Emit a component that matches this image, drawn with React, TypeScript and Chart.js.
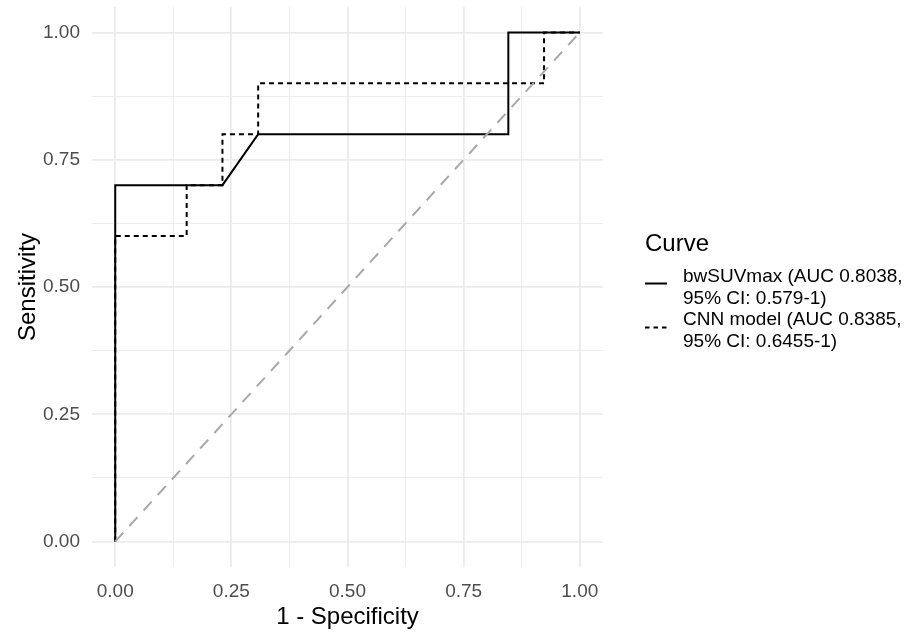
import React, { useEffect, useRef } from "react";
import { Chart, registerables } from "chart.js";

Chart.register(...registerables);

// ---- data ----
const xMajorTicks = [0, 0.25, 0.5, 0.75, 1];
const xMinorTicks = [0.125, 0.375, 0.625, 0.875];
const yMajorTicks = [0, 0.25, 0.5, 0.75, 1];
const yMinorTicks = [0.125, 0.375, 0.625, 0.875];

const bwFpr = [0, 0, 0.2308, 0.3077, 0.8462, 0.8462, 1];
const bwTpr = [0, 0.7, 0.7, 0.8, 0.8, 1.0, 1.0];

const cnnFpr = [0, 0, 0.1538, 0.1538, 0.2308, 0.2308, 0.3077, 0.3077, 0.9231, 0.9231, 1];
const cnnTpr = [0, 0.6, 0.6, 0.7, 0.7, 0.8, 0.8, 0.9, 0.9, 1.0, 1.0];

const refX = [0, 1];
const refY = [0, 1];

const xTitle = "1 - Specificity";
const yTitle = "Sensitivity";
const legendTitle = "Curve";
const legendLabels = [
  ["bwSUVmax (AUC 0.8038,", "95% CI: 0.579-1)"],
  ["CNN model (AUC 0.8385,", "95% CI: 0.6455-1)"],
];

const FONT = '"Liberation Sans", Arial, Helvetica, sans-serif';

const isMajor = (v: number) => Math.abs(v * 4 - Math.round(v * 4)) < 1e-6;

const toPoints = (xs: number[], ys: number[]) => xs.map((x, i) => ({ x, y: ys[i] }));

const legendPlugin = {
  id: "ggLegend",
  afterDraw(chart: any) {
    const ctx = chart.ctx as CanvasRenderingContext2D;
    ctx.save();
    ctx.fillStyle = "#000000";
    ctx.textAlign = "left";
    ctx.textBaseline = "middle";
    ctx.font = `24px ${FONT}`;
    ctx.fillText(legendTitle, 645, 244);

    // keys
    ctx.strokeStyle = "#000000";
    ctx.lineWidth = 2;
    ctx.setLineDash([]);
    ctx.beginPath();
    ctx.moveTo(645, 283.5);
    ctx.lineTo(667, 283.5);
    ctx.stroke();
    ctx.setLineDash([4.5, 4]);
    ctx.beginPath();
    ctx.moveTo(645, 327.5);
    ctx.lineTo(667, 327.5);
    ctx.stroke();
    ctx.setLineDash([]);

    ctx.font = `19px ${FONT}`;
    const ys = [[277, 298.5], [320, 341.5]];
    legendLabels.forEach((lines, i) => {
      lines.forEach((t, j) => ctx.fillText(t, 683, ys[i][j]));
    });
    ctx.restore();
  },
};

export default function App() {
  const ref = useRef<HTMLCanvasElement | null>(null);

  useEffect(() => {
    if (!ref.current) return;
    const allX = [...xMajorTicks, ...xMinorTicks].sort((a, b) => a - b);
    const allY = [...yMajorTicks, ...yMinorTicks].sort((a, b) => a - b);

    const chart = new Chart(ref.current, {
      type: "scatter",
      data: {
        datasets: [
          {
            label: "reference",
            data: toPoints(refX, refY),
            showLine: true,
            borderColor: "#A8A8A8",
            borderWidth: 2,
            borderDash: [12, 9],
            pointRadius: 0,
            order: 0,
          },
          {
            label: legendLabels[0].join(" "),
            data: toPoints(bwFpr, bwTpr),
            showLine: true,
            borderColor: "#000000",
            borderWidth: 2,
            pointRadius: 0,
            order: 1,
          },
          {
            label: legendLabels[1].join(" "),
            data: toPoints(cnnFpr, cnnTpr),
            showLine: true,
            borderColor: "#000000",
            borderWidth: 2,
            borderDash: [5, 4],
            pointRadius: 0,
            order: 2,
          },
        ],
      },
      options: {
        responsive: false,
        animation: false,
        events: [],
        layout: { padding: { top: 7, right: 309, left: 0, bottom: 0 } },
        plugins: {
          legend: { display: false },
          tooltip: { enabled: false },
        },
        scales: {
          x: {
            type: "linear",
            min: -0.05,
            max: 1.05,
            afterBuildTicks: (scale: any) => {
              scale.ticks = allX.map((v) => ({ value: v }));
            },
            afterFit: (scale: any) => {
              scale.height = 68;
              scale.paddingLeft = 0;
              scale.paddingRight = 0;
            },
            ticks: {
              autoSkip: false,
              maxRotation: 0,
              padding: 13,
              color: "#4D4D4D",
              font: { family: FONT, size: 19 },
              callback: (v: any) => (isMajor(Number(v)) ? Number(v).toFixed(2) : ""),
            },
            grid: {
              drawTicks: false,
              color: "#EBEBEB",
              lineWidth: (c: any) => (isMajor(c.tick?.value ?? 0) ? 1.8 : 0.9),
            },
            border: { display: false },
            title: {
              display: true,
              text: xTitle,
              color: "#000000",
              font: { family: FONT, size: 24 },
              padding: { top: 0, bottom: 3 },
            },
          },
          y: {
            type: "linear",
            min: -0.05,
            max: 1.05,
            afterBuildTicks: (scale: any) => {
              scale.ticks = allY.map((v) => ({ value: v }));
            },
            afterFit: (scale: any) => {
              scale.width = 92;
              scale.paddingTop = 0;
              scale.paddingBottom = 0;
            },
            ticks: {
              autoSkip: false,
              padding: 12,
              color: "#4D4D4D",
              font: { family: FONT, size: 19 },
              callback: (v: any) => (isMajor(Number(v)) ? Number(v).toFixed(2) : ""),
            },
            grid: {
              drawTicks: false,
              color: "#EBEBEB",
              lineWidth: (c: any) => (isMajor(c.tick?.value ?? 0) ? 1.8 : 0.9),
            },
            border: { display: false },
            title: {
              display: true,
              text: yTitle,
              color: "#000000",
              font: { family: FONT, size: 24 },
              padding: { top: 14, bottom: 0 },
            },
          },
        },
      },
      plugins: [legendPlugin],
    } as any);

    return () => chart.destroy();
  }, []);

  return (
    <div style={{ position: "absolute", left: 0, top: 0, width: 912, height: 635, background: "#ffffff" }}>
      <canvas ref={ref} width={912} height={635} style={{ display: "block" }} />
    </div>
  );
}
